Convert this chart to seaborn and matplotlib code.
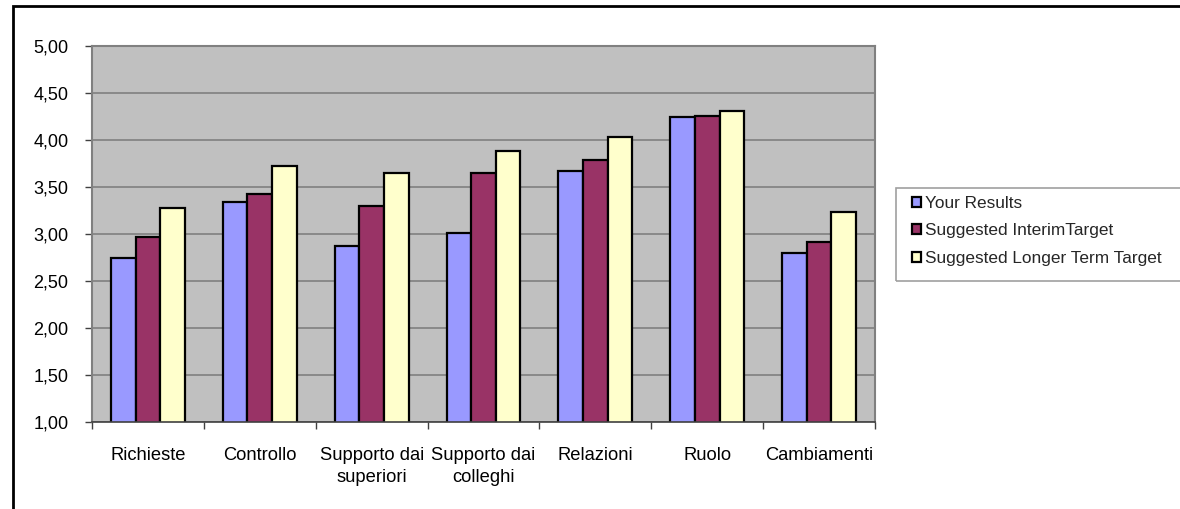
import matplotlib
matplotlib.use("Agg")
import matplotlib.pyplot as plt
import matplotlib.transforms as mtransforms
import seaborn as sns
import pandas as pd
from matplotlib.ticker import FuncFormatter, FixedLocator, MultipleLocator
from matplotlib.patches import Rectangle

categories = ["Richieste", "Controllo", "Supporto dai\nsuperiori", "Supporto dai\ncolleghi",
              "Relazioni", "Ruolo", "Cambiamenti"]
series_names = ["Your Results", "Suggested InterimTarget", "Suggested Longer Term Target"]
your_results = [2.74, 3.34, 2.87, 3.01, 3.67, 4.245, 2.80]
interim_target = [2.97, 3.43, 3.30, 3.65, 3.79, 4.255, 2.92]
longer_term_target = [3.28, 3.72, 3.645, 3.88, 4.035, 4.31, 3.23]
colors = ["#9999FF", "#993366", "#FFFFCC"]

rows = []
for name, vals in zip(series_names, [your_results, interim_target, longer_term_target]):
    for c, v in zip(categories, vals):
        rows.append({"category": c, "series": name, "value": v})
df = pd.DataFrame(rows)

sns.set_style("white")
plt.rcParams['font.family'] = ['Liberation Sans', 'DejaVu Sans']

W, H = 1180, 509
fig = plt.figure(figsize=(W / 100, H / 100), dpi=100)
ax = fig.add_axes([92 / W, 1 - 422 / H, (875 - 92) / W, (422 - 46) / H])

sns.barplot(data=df, x="category", y="value", hue="series", order=categories,
            hue_order=series_names, palette=colors, width=0.66, saturation=1,
            edgecolor="black", linewidth=1.6, ax=ax, legend=True)

ax.set_facecolor("#C0C0C0")
ax.set_ylim(1.0, 5.0)
ax.set_xlim(-0.5, len(categories) - 0.5)
ax.yaxis.set_major_locator(MultipleLocator(0.5))
ax.yaxis.set_major_formatter(FuncFormatter(lambda v, p: f"{v:.2f}".replace(".", ",")))
ax.grid(axis="y", color="#808080", linewidth=1.2)
ax.set_axisbelow(True)
ax.set_xlabel("")
ax.set_ylabel("")

for side in ["top", "right", "left"]:
    ax.spines[side].set_color("#808080")
    ax.spines[side].set_linewidth(1.5)
ax.spines["bottom"].set_color("#404040")
ax.spines["bottom"].set_linewidth(1.2)

ax.tick_params(axis="y", which="major", direction="out", length=5, width=1,
               color="#404040", pad=12, labelsize=13, labelcolor="black", left=True)
ax.tick_params(axis="x", which="major", length=0, labelbottom=False)
ax.xaxis.set_minor_locator(FixedLocator([i - 0.5 for i in range(len(categories) + 1)]))
ax.tick_params(axis="x", which="minor", direction="out", length=5, width=1,
               color="#404040", bottom=True)

# category labels, placed at the category positions of the x axis
lbl_tr = mtransforms.offset_copy(ax.get_xaxis_transform(), fig=fig, x=0, y=-25, units="dots")
for i, cat in enumerate(categories):
    ax.text(i, 0, cat, transform=lbl_tr, ha="center", va="top", multialignment="center",
            fontsize=13.2, linespacing=1.35, color="black")

handles, labels = ax.get_legend_handles_labels()
ax.get_legend().remove()
fig.legend(handles, labels, loc="upper left",
           bbox_to_anchor=(912 / W, 1 - 196 / H), bbox_transform=fig.transFigure,
           frameon=False, fontsize=12.4, borderpad=0, borderaxespad=0,
           handlelength=0.55, handleheight=0.55, handletextpad=0.2, labelspacing=0.72)

# legend box
fig.patches.append(Rectangle((896 / W, 1 - 281 / H), (1185 - 896) / W, (281 - 188) / H,
                             transform=fig.transFigure, fill=False,
                             edgecolor="#A0A0A0", linewidth=1.2))
# outer chart frame
fig.patches.append(Rectangle((13 / W, -0.05), 1.1, (509 - 6) / H + 0.05,
                             transform=fig.transFigure, fill=False,
                             edgecolor="black", linewidth=2))

fig.savefig("out.png", dpi=100)
